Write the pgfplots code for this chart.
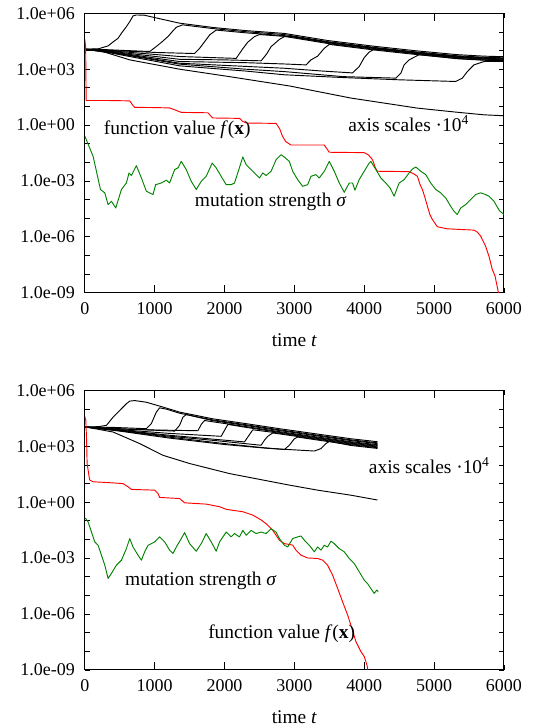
\documentclass[border=0pt]{standalone}
\usepackage{fontspec}
\setmainfont{Liberation Serif}
\usepackage{pgfplots}
\pgfplotsset{compat=1.18}
\definecolor{fred}{RGB}{255,0,0}
\definecolor{sgreen}{RGB}{0,130,0}
\newcommand\fs{\fontsize{13.5}{16}\selectfont}
\newcommand\fl{\fontsize{14.6}{17}\selectfont}

% y values are log10 of the plotted quantity; the axis is labelled like a log axis
\pgfplotsset{
  panel/.style={
    scale only axis, width=315pt, height=210pt, anchor=north west,
    xmin=0, xmax=6000, ymin=-9, ymax=6,
    xtick={0,1000,2000,3000,4000,5000,6000},
    xticklabels={0,1000,2000,3000,4000,5000,6000},
    minor xtick={1000,2000,3000,4000,5000},
    ytick={-9,-8,...,6},
    yticklabels={1.0e-09,{},{},1.0e-06,{},{},1.0e-03,{},{},1.0e+00,{},{},1.0e+03,{},{},1.0e+06},
    tick align=inside, major tick length=3.75pt, minor tick length=6pt,
    tick style={line width=0.6pt, black},
    axis line style={line width=0.8pt},
    tick label style={font=\fs},
    xticklabel style={yshift=-4pt},
    yticklabel style={xshift=-4pt},
    xlabel={time \textit{t}},
    xlabel style={font=\fl, at={(axis description cs:0.5,0)}, anchor=north, yshift=-27pt},
    every axis plot/.append style={line width=0.7pt, line join=round},
  },
}

\begin{document}
\begin{tikzpicture}[font=\fl]
\path (0,0) rectangle (402.75pt,-546pt);

% ---------------- upper run ----------------
\begin{axis}[panel, at={(63.75pt,-10pt)}]
% axis scales (x 1e4)
\addplot[black] coordinates {(0,4.07)(200,4.1)(333,4.25)(400,4.45)(476,4.66)(530,4.96)(595,5.28)(643,5.55)(690,5.86)(738,5.91)(850,5.9)(1024,5.75)(1357,5.47)(1833,5.24)(2310,5.07)(2857,4.92)(3476,4.54)(4143,4.23)(4762,3.98)(5333,3.78)(5714,3.7)(6000,3.67)};
\addplot[black] coordinates {(0,4.07)(300,4.05)(600,4.0)(929,3.95)(1000,4.15)(1100,4.45)(1190,4.75)(1260,5.05)(1310,5.25)(1400,5.38)(1833,5.18)(2310,5.01)(2857,4.86)(3476,4.48)(4143,4.17)(4762,3.92)(5333,3.72)(5714,3.64)(6000,3.61)};
\addplot[black] coordinates {(0,4.07)(400,4.0)(1000,3.9)(1571,3.84)(1640,4.1)(1720,4.5)(1790,4.85)(1881,5.1)(2310,4.95)(2857,4.8)(3476,4.42)(4143,4.11)(4762,3.86)(5333,3.66)(5714,3.58)(6000,3.55)};
\addplot[black] coordinates {(0,4.07)(400,3.98)(1357,3.68)(2167,3.58)(2262,4.1)(2333,4.45)(2429,4.75)(2500,4.86)(2857,4.76)(3476,4.38)(4143,4.07)(4762,3.82)(5333,3.62)(5714,3.54)(6000,3.5)};
\addplot[black] coordinates {(0,4.07)(400,3.95)(1357,3.53)(2000,3.5)(2524,3.45)(2600,3.8)(2667,4.21)(2786,4.6)(2857,4.75)(2950,4.77)(3476,4.45)(4143,4.14)(4762,3.89)(5333,3.69)(5714,3.61)(6000,3.58)};
\addplot[black] coordinates {(0,4.07)(400,3.92)(1357,3.41)(2300,3.35)(2857,3.28)(3167,3.23)(3238,3.5)(3333,3.7)(3428,4.12)(3500,4.33)(4143,4.03)(4762,3.78)(5333,3.58)(5714,3.5)(6000,3.47)};
\addplot[black] coordinates {(0,4.07)(400,3.9)(1357,3.32)(2300,3.15)(2857,3.05)(3400,2.9)(3833,2.8)(3928,3.14)(4000,3.62)(4071,3.92)(4143,4.07)(4300,4.05)(4762,3.84)(5333,3.64)(5714,3.56)(6000,3.53)};
\addplot[black] coordinates {(0,4.07)(400,3.88)(1357,3.27)(2300,3.0)(2857,2.87)(3700,2.6)(4452,2.52)(4524,2.78)(4571,3.23)(4643,3.5)(4786,3.78)(5333,3.56)(5714,3.48)(6000,3.45)};
\addplot[black] coordinates {(0,4.07)(400,3.85)(1357,3.18)(2300,2.9)(2857,2.7)(3700,2.55)(4500,2.43)(5310,2.34)(5405,2.52)(5476,2.87)(5571,3.23)(5714,3.41)(5850,3.42)(6000,3.41)};
\addplot[black] coordinates {(0,4.07)(150,4.07)(643,3.5)(1357,3.0)(2071,2.6)(2929,2.1)(3809,1.45)(4762,0.91)(5300,0.7)(5714,0.55)(6000,0.5)};
% function value
\addplot[fred] coordinates {(0,4.6)(12,4.2)(16,2.5)(20,1.32)(300,1.32)(643,1.30)(690,1.05)(714,0.95)(1000,0.94)(1214,0.92)(1300,0.8)(1381,0.68)(1762,0.66)(1800,0.5)(1833,0.38)(2214,0.36)(2260,0.2)(2310,0.11)(2738,0.09)(2790,-0.2)(2830,-0.6)(2875,-0.88)(2949,-1.07)(3428,-1.07)(3470,-1.3)(3500,-1.46)(4000,-1.48)(4060,-1.6)(4119,-1.86)(4160,-2.3)(4190,-2.48)(4643,-2.5)(4700,-2.6)(4762,-2.75)(4800,-3.2)(4833,-3.46)(4870,-3.9)(4905,-4.36)(4940,-4.8)(4976,-5.07)(5047,-5.46)(5190,-5.57)(5571,-5.64)(5620,-5.75)(5667,-5.96)(5738,-6.5)(5786,-7.04)(5833,-7.75)(5873,-8.1)(5900,-8.6)(5922,-9.0)(5935,-9.4)};
% mutation strength
\addplot[sgreen] coordinates {(0,-0.6)(14,-0.72)(119,-1.68)(224,-3.46)(286,-3.64)(333,-4.27)(381,-4.09)(443,-4.45)(524,-3.46)(595,-3.11)(633,-2.57)(667,-2.71)(738,-2.18)(810,-2.84)(881,-3.55)(976,-3.73)(1014,-3.2)(1095,-3.11)(1167,-2.96)(1214,-3.11)(1286,-2.39)(1333,-2.3)(1381,-1.95)(1452,-2.39)(1524,-3.02)(1595,-3.46)(1667,-3.02)(1738,-2.75)(1824,-2.04)(1881,-2.3)(1952,-2.75)(2024,-3.2)(2095,-3.2)(2143,-3.11)(2205,-2.39)(2262,-1.71)(2310,-2.13)(2381,-2.39)(2452,-2.66)(2500,-2.84)(2548,-2.57)(2595,-2.71)(2667,-2.48)(2738,-1.86)(2810,-1.59)(2857,-1.72)(2928,-1.95)(2976,-2.48)(3047,-2.93)(3119,-3.29)(3190,-3.2)(3238,-2.75)(3309,-2.66)(3357,-2.84)(3428,-2.48)(3500,-1.95)(3571,-2.48)(3643,-3.11)(3714,-3.61)(3786,-3.11)(3833,-3.11)(3867,-3.5)(3928,-2.93)(4000,-2.48)(4071,-2.04)(4095,-1.95)(4167,-2.39)(4238,-2.84)(4309,-3.11)(4371,-3.38)(4428,-3.82)(4500,-3.11)(4571,-2.93)(4643,-2.57)(4690,-2.36)(4738,-2.25)(4809,-2.48)(4881,-2.66)(4952,-3.11)(5024,-3.46)(5095,-3.64)(5167,-3.91)(5238,-4.36)(5286,-4.63)(5333,-4.8)(5381,-4.45)(5452,-4.27)(5524,-4.0)(5595,-3.73)(5667,-3.64)(5738,-3.73)(5786,-3.82)(5857,-4.09)(5936,-4.6)(6000,-4.8)};
\node[anchor=base west] at (axis cs:205,-0.52) {function value \textit{f}(\textbf{x})};
\node[anchor=base west] at (axis cs:3705,-0.34) {axis scales ·10\textsuperscript{4}};
\node[anchor=base west] at (axis cs:1510,-4.36) {mutation strength \textit{σ}};
\end{axis}

% ---------------- lower run ----------------
\begin{axis}[panel, at={(63.75pt,-293.5pt)}]
\addplot[black] coordinates {(0,4.04)(200,4.06)(310,4.13)(405,4.57)(500,4.93)(595,5.29)(643,5.43)(714,5.46)(881,5.37)(1119,5.11)(1357,4.84)(1833,4.48)(2310,4.22)(2786,3.95)(3333,3.66)(3809,3.41)(4190,3.25)};
\addplot[black] coordinates {(0,4.04)(400,4.02)(881,3.95)(952,4.22)(1024,4.84)(1071,5.07)(1167,5.0)(1357,4.78)(1833,4.42)(2310,4.16)(2786,3.89)(3333,3.6)(3809,3.35)(4190,3.19)};
\addplot[black] coordinates {(0,4.04)(500,3.95)(1286,3.82)(1357,4.13)(1405,4.57)(1452,4.71)(1833,4.38)(2310,4.12)(2786,3.85)(3333,3.56)(3809,3.31)(4190,3.15)};
\addplot[black] coordinates {(0,4.04)(500,3.93)(1000,3.88)(1619,3.84)(1667,4.18)(1714,4.39)(1833,4.32)(2310,4.06)(2786,3.79)(3333,3.5)(3809,3.25)(4190,3.09)};
\addplot[black] coordinates {(0,4.04)(500,3.9)(1200,3.7)(1952,3.54)(2000,3.86)(2048,4.18)(2310,4.02)(2786,3.75)(3333,3.46)(3809,3.21)(4190,3.05)};
\addplot[black] coordinates {(0,4.04)(500,3.88)(1200,3.6)(1800,3.4)(2286,3.24)(2333,3.5)(2405,3.89)(2786,3.71)(3333,3.42)(3809,3.17)(4190,3.01)};
\addplot[black] coordinates {(0,4.04)(500,3.86)(1200,3.55)(1900,3.3)(2524,3.06)(2571,3.33)(2619,3.54)(2690,3.72)(2786,3.67)(3333,3.38)(3809,3.13)(4190,2.97)};
\addplot[black] coordinates {(0,4.04)(500,3.84)(1200,3.5)(2000,3.15)(2500,2.95)(2857,2.83)(2928,3.06)(3000,3.41)(3048,3.5)(3333,3.34)(3809,3.09)(4190,2.93)};
\addplot[black] coordinates {(0,4.04)(500,3.82)(1200,3.45)(2000,3.1)(2600,2.9)(3286,2.75)(3381,2.88)(3452,3.15)(3500,3.27)(3809,3.05)(4190,2.89)};
\addplot[black] coordinates {(0,4.04)(14,4.04)(405,3.77)(786,3.15)(1119,2.52)(1500,2.08)(2071,1.54)(2929,0.92)(3333,0.65)(3809,0.38)(4190,0.12)};
\addplot[fred] coordinates {(0,4.6)(14,4.4)(24,3.5)(33,2.08)(62,1.36)(71,1.19)(119,1.1)(405,1.04)(548,1.0)(619,0.83)(667,0.69)(1000,0.65)(1048,0.47)(1071,0.26)(1357,0.2)(1429,-0.03)(1738,-0.1)(1929,-0.24)(2024,-0.38)(2262,-0.51)(2405,-0.69)(2524,-0.95)(2595,-1.15)(2690,-1.5)(2786,-2.04)(2857,-2.22)(2976,-2.3)(3024,-2.58)(3095,-2.84)(3190,-2.99)(3333,-3.02)(3405,-3.11)(3476,-3.38)(3547,-3.91)(3619,-4.62)(3690,-5.34)(3762,-6.05)(3809,-6.59)(3881,-7.48)(3952,-8.01)(4000,-8.28)(4038,-8.72)(4057,-9.08)(4065,-9.3)};
\addplot[sgreen] coordinates {(0,-0.85)(14,-0.88)(48,-1.06)(95,-1.6)(143,-2.13)(190,-2.31)(238,-2.84)(286,-3.38)(333,-4.09)(381,-3.82)(452,-3.38)(524,-3.11)(595,-2.49)(643,-1.95)(690,-2.4)(762,-2.84)(810,-3.11)(857,-2.66)(905,-2.31)(1000,-2.13)(1071,-1.86)(1143,-2.13)(1214,-2.57)(1262,-2.75)(1310,-2.4)(1381,-1.95)(1429,-1.63)(1500,-2.22)(1595,-2.63)(1667,-2.22)(1738,-1.68)(1810,-2.13)(1881,-2.63)(1929,-2.13)(2024,-1.6)(2095,-1.86)(2143,-1.68)(2214,-1.86)(2262,-1.51)(2310,-1.77)(2381,-1.51)(2452,-1.68)(2524,-1.6)(2595,-1.68)(2667,-1.42)(2738,-1.6)(2786,-1.95)(2857,-2.31)(2905,-2.4)(2976,-1.95)(3047,-1.86)(3095,-1.81)(3143,-2.04)(3214,-2.31)(3286,-2.66)(3333,-2.4)(3381,-2.57)(3428,-2.31)(3476,-2.4)(3524,-2.09)(3571,-2.22)(3643,-2.49)(3714,-2.66)(3786,-3.02)(3857,-3.29)(3928,-3.73)(4000,-4.18)(4047,-4.36)(4095,-4.63)(4143,-4.89)(4181,-4.71)(4200,-4.8)};
\node[anchor=base west] at (axis cs:4000,1.54) {axis scales ·10\textsuperscript{4}};
\node[anchor=base west] at (axis cs:510,-4.45) {mutation strength \textit{σ}};
\node[anchor=base west] at (axis cs:1700,-7.3) {function value \textit{f}(\textbf{x})};
\end{axis}
\end{tikzpicture}
\end{document}
